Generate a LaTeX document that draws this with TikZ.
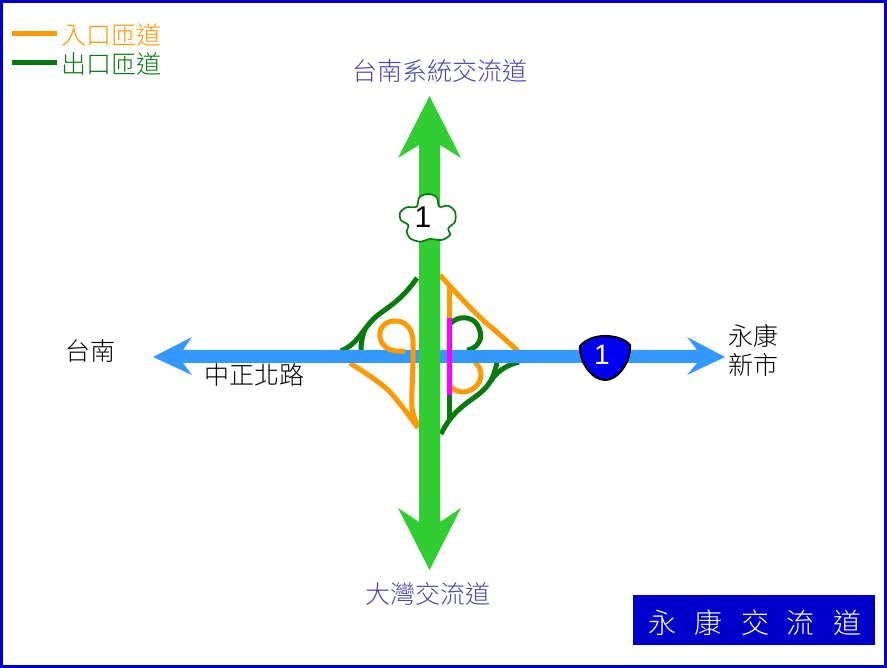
\documentclass[tikz,border=0pt]{standalone}
\usepackage{fontspec}
\setmainfont{Liberation Sans}
\newfontfamily\cjk{Noto Sans CJK TC Light}
\definecolor{frameblue}{HTML}{0000CC}
\definecolor{ramporange}{HTML}{FF9900}
\definecolor{rampgreen}{HTML}{067A0C}
\definecolor{roadgreen}{HTML}{32CD32}
\definecolor{roadblue}{HTML}{3399FF}
\definecolor{labelblue}{HTML}{4444BB}
\definecolor{shieldblue}{HTML}{0000F0}
\definecolor{pinkramp}{HTML}{FF00FF}
\tikzset{
 inramp/.style={draw=ramporange,line width=5pt,line join=round},
 outramp/.style={draw=rampgreen,line width=5pt,line join=round},
 cjklabel/.style={font=\cjk\fontsize{25}{27}\selectfont,inner sep=0pt},
 titlelabel/.style={font=\cjk\fontsize{28}{29}\selectfont,text=white,inner sep=0pt},
 signnum/.style={inner sep=0pt}
}
\begin{document}
\begin{tikzpicture}[x=1pt,y=-1pt]
\useasboundingbox (0,0) rectangle (887,668);
\fill[white] (0,0) rectangle (887,668);
\draw[frameblue,line width=3pt] (1.5,1.5) rectangle (885.5,666.5);
% ramps below the east-west road
\draw[outramp] (417,278) .. controls (405,295) and (395,303) .. (382,312) .. controls (370,320) and (365,330) .. (358,338) .. controls (353,344) and (348,348) .. (341,351);
\draw[outramp] (361,351) .. controls (361,343) and (362,337) .. (365,329);
\draw[inramp] (350,363) .. controls (365,373) and (380,382) .. (390,392) .. controls (400,403) and (410,417) .. (418,428);
\draw[inramp] (440,275) .. controls (455,292) and (470,308) .. (485,322) .. controls (497,332) and (508,342) .. (518,351);
\draw[inramp] (449,286) -- (449,320);
\draw[outramp] (451,323) .. controls (458,316) and (470,316) .. (476,323) .. controls (482,331) and (482,340) .. (477,345) .. controls (474,348) and (470,350) .. (467,350);
\draw[inramp] (474,361) .. controls (479,366) and (481,370) .. (481,375) .. controls (481,384) and (472,392) .. (463,392) .. controls (458,392) and (454,390) .. (451,387);
\draw[outramp] (449,393) -- (449,419);
\draw[outramp] (441,434) .. controls (446,424) and (452,414) .. (468,402) .. controls (478,395) and (485,390) .. (490,382) .. controls (497,371) and (507,365) .. (519,362);
\draw[outramp] (497,362) .. controls (496,368) and (494,374) .. (491,381);
% east-west road
\fill[roadblue] (153,357) -- (192,337) -- (183,350) -- (697,350) -- (687,337) -- (725,357) -- (687,375) -- (697,363) -- (183,363) -- (192,375) -- cycle;
% ramps above the east-west road
\draw[inramp] (405,351) .. controls (395,352) and (385,350) .. (381,341) .. controls (377,331) and (383,322) .. (393,321) .. controls (405,320) and (412,328) .. (413,340) .. controls (414,360) and (411,395) .. (412,408) .. controls (413,415) and (415,420) .. (418,425);
\draw[draw=pinkramp,line width=5pt] (449,318) -- (449,395);
% north-south road
\fill[roadgreen] (429.5,96) -- (461,158) -- (440,145) -- (440,522) -- (461,508) -- (429.5,570) -- (398,508) -- (419,522) -- (419,145) -- (398,158) -- cycle;
% signs
\draw[draw=rampgreen,fill=white,line width=1.7pt,line join=round] plot[smooth cycle,tension=0.5] coordinates {(428.3,194) (436.7,197.3) (439.3,206.7) (448.3,205.7) (455,211.7) (455,221.7) (448.3,228.3) (450,235) (441.7,240) (430,239) (420,241.7) (410,238.3) (406.7,231.7) (408.3,225) (400.7,220) (400,212.7) (406.7,207.3) (416.7,206.7) (419.3,197.3)};
\node[signnum,font=\fontsize{30}{30}\selectfont] (flowernum) at (423,217) {1};
\draw[draw=black,fill=shieldblue,line width=2pt,line join=round] (580,346) .. controls (586,339) and (596,336) .. (605,336) .. controls (615,336) and (625,339) .. (630,345) .. controls (631,362) and (618,380) .. (605,380) .. controls (592,380) and (579,362) .. (580,346) -- cycle;
\node[signnum,text=white,font=\fontsize{28}{28}\selectfont] (shieldnum) at (602,355) {1};
% labels
\node[cjklabel,text=labelblue] (north) at (440,71) {台南系統交流道};
\node[cjklabel,text=labelblue] (south) at (428,594) {大灣交流道};
\node[cjklabel] (west) at (90,351) {台南};
\node[cjklabel] (road) at (254,375) {中正北路};
\node[cjklabel] (east1) at (753.5,336) {永康};
\node[cjklabel] (east2) at (753.5,365) {新市};
% legend
\coordinate (la) at (12,34); \coordinate (lb) at (57,34);
\coordinate (lc) at (12,63); \coordinate (ld) at (57,63);
\draw[ramporange,line width=5pt] (la) -- (lb);
\draw[rampgreen,line width=5pt] (lc) -- (ld);
\node[cjklabel,text=ramporange] (legin) at (111,35) {入口匝道};
\node[cjklabel,text=rampgreen] (legout) at (111,64) {出口匝道};
% title
\fill[frameblue] (633,595) rectangle (875,645);
\node[titlelabel] (t1) at (662,623) {永};
\node[titlelabel] (t2) at (708,623) {康};
\node[titlelabel] (t3) at (755,623) {交};
\node[titlelabel] (t4) at (800,623) {流};
\node[titlelabel] (t5) at (847,623) {道};
\end{tikzpicture}
\end{document}
